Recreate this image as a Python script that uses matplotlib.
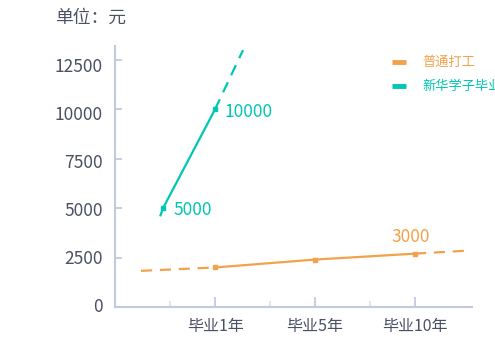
import matplotlib
matplotlib.use('Agg')
import matplotlib.pyplot as plt
import matplotlib.transforms as mtransforms

plt.rcParams['font.family'] = ['Noto Sans CJK SC', 'DejaVu Sans']

# x positions: 1 = 毕业1年, 2 = 毕业5年, 3 = 毕业10年
cat_pos = [1, 2, 3]
cat_labels = ['毕业1年', '毕业5年', '毕业10年']
minor_pos = [0.55, 1.55, 2.55]

# 普通打工
work_x = [1, 2, 3]
work_y = [2000, 2400, 2700]
work_ext_x = [0.26, 1, 3, 3.55]
work_ext_y = [1830, 2000, 2700, 2860]
work_label = '3000'

# 新华学子毕业
grad_x = [0.455, 0.48, 1]
grad_y = [4640, 5000, 10000]
grad_ext_x = [1, 1.28]
grad_ext_y = [10000, 13000]
grad_labels = ['5000', '10000']

yticks = [0, 2500, 5000, 7500, 10000, 12500]

orange = '#f2a24a'
cyan = '#00c6b4'
axis_c = '#c3cadf'
text_c = '#4b5064'

W, H = 495, 350
fig = plt.figure(figsize=(W / 100, H / 100), dpi=100)
ax = fig.add_axes([115 / W, 1 - 307 / H, (472 - 115) / W, (307 - 46) / H])

# dashed extrapolation
ax.plot(work_ext_x[:2], work_ext_y[:2], color=orange, lw=1.6, ls=(0, (5, 3.5)))
ax.plot(work_ext_x[2:], work_ext_y[2:], color=orange, lw=1.6, ls=(0, (5, 3.5)))
ax.plot(grad_ext_x, grad_ext_y, color=cyan, lw=1.6, ls=(0, (5, 3.5)))

ax.plot(work_x, work_y, color=orange, lw=1.6, marker='s', ms=3.5)
ax.plot(grad_x, grad_y, color=cyan, lw=1.6)
ax.plot(grad_x[1:], grad_y[1:], color=cyan, lw=0, marker='s', ms=3.5)

ax.text(grad_x[1] + 0.1, grad_y[1] - 80, grad_labels[0], color=cyan, fontsize=12.5,
        va='center', ha='left')
ax.text(grad_x[2] + 0.09, grad_y[2] - 150, grad_labels[1], color=cyan, fontsize=12.5,
        va='center', ha='left')
ax.text(work_x[2] - 0.04, work_y[2] + 830, work_label, color=orange, fontsize=12.5,
        va='center', ha='center')

ax.set_xlim(0, 3.57)
ax.set_ylim(0, 13210)
ax.set_yticks(yticks)
ax.set_yticklabels([])
ax.set_xticks(cat_pos)
ax.set_xticklabels(cat_labels)
ax.set_xticks(minor_pos, minor=True)

# y tick labels sit slightly below their ticks in the reference
ytrans = mtransforms.blended_transform_factory(ax.transAxes, ax.transData)
for v in yticks:
    ax.text(-12 / 357, v * 0.972, str(v), transform=ytrans, color=text_c,
            fontsize=12.5, ha='right', va='center')

for s in ['top', 'right']:
    ax.spines[s].set_visible(False)
for s in ['left', 'bottom']:
    ax.spines[s].set_color(axis_c)
    ax.spines[s].set_linewidth(1.5)

ax.tick_params(axis='y', direction='in', length=5, width=1.3, color=axis_c)
ax.tick_params(axis='x', which='major', direction='in', length=7, width=1.3,
               color=axis_c, labelcolor=text_c, labelsize=11.5, pad=8)
ax.tick_params(axis='x', which='minor', direction='in', length=4, width=1.3,
               color='#dde3f1')

fig.text(55 / W, 1 - 18 / H, '单位：元', color=text_c, fontsize=12.8, va='center', ha='left')

# legend
legend_items = [('普通打工', orange, 62), ('新华学子毕业', cyan, 86)]
for name, col, yp in legend_items:
    fig.add_artist(plt.Line2D([392 / W, 406 / W], [1 - yp / H, 1 - yp / H],
                              color=col, lw=3.5, solid_capstyle='butt'))
    fig.text(422 / W, 1 - yp / H, name, color=col, fontsize=9.5, va='center', ha='left')

fig.savefig('out.png', dpi=100)
